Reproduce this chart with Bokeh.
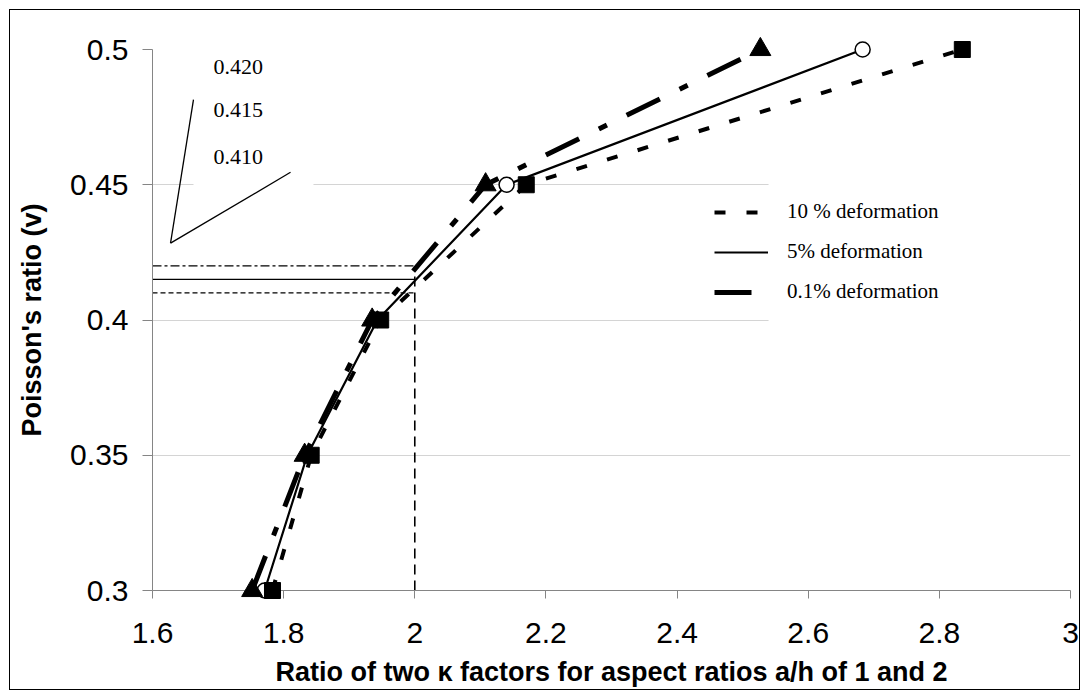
from bokeh.plotting import figure
from bokeh.models import (Range1d, FixedTicker, Label, Legend, LegendItem)
from bokeh.embed import file_html
from bokeh.resources import INLINE

# Poisson's ratio levels and the kappa-factor ratios for each deformation level
poisson = [0.30, 0.35, 0.40, 0.45, 0.50]
ratio_10pct = [1.783, 1.842, 1.948, 2.170, 2.835]
ratio_5pct = [1.771, 1.836, 1.943, 2.140, 2.683]
ratio_01pct = [1.752, 1.832, 1.935, 2.108, 2.527]

series_labels = ["10 % deformation", "5% deformation", "0.1% deformation"]

x_ticks = [1.6, 1.8, 2.0, 2.2, 2.4, 2.6, 2.8, 3.0]
x_tick_labels = ["1.6", "1.8", "2", "2.2", "2.4", "2.6", "2.8", "3"]
y_ticks = [0.30, 0.35, 0.40, 0.45, 0.50]
y_tick_labels = ["0.3", "0.35", "0.4", "0.45", "0.5"]

x_title = "Ratio of two \u03ba factors for aspect ratios a/h of 1 and 2"
y_title = "Poisson's ratio (v)"

# reading of the chart at ratio = 2
read_x = 2.0
read_levels = [0.420, 0.415, 0.410]
read_labels = ["0.420", "0.415", "0.410"]

p = figure(width=1069, height=679, output_backend="svg", toolbar_location=None,
           x_range=Range1d(1.6, 3.0), y_range=Range1d(0.3, 0.5),
           min_border_left=142, min_border_right=9, min_border_top=39,
           min_border_bottom=98)
p.styles = {"margin": "10px", "outline": "1px solid black"}
p.outline_line_color = None
p.background_fill_color = "white"

p.xgrid.grid_line_color = None
p.ygrid.grid_line_color = "#d4d4d4"
p.ygrid.grid_line_width = 1

for ax in (p.xaxis, p.yaxis):
    ax.axis_line_color = "#858585"
    ax.major_tick_line_color = "#858585"
    ax.minor_tick_line_color = None
    ax.major_tick_in = 0
    ax.major_label_text_font = "Liberation Sans"
    ax.major_label_text_font_size = "30px"
    ax.major_label_text_color = "black"
    ax.axis_label_text_font = "Liberation Sans"
    ax.axis_label_text_font_style = "bold"
    ax.axis_label_text_font_size = "27px"
    ax.axis_label_text_color = "black"

p.xaxis.ticker = FixedTicker(ticks=x_ticks)
p.xaxis.major_label_overrides = dict(zip(x_ticks, x_tick_labels))
p.xaxis.major_tick_out = 8
p.xaxis.major_label_standoff = 24
p.xaxis.axis_label = x_title
p.xaxis.axis_label_standoff = 11

p.yaxis.ticker = FixedTicker(ticks=y_ticks)
p.yaxis.major_label_overrides = dict(zip(y_ticks, y_tick_labels))
p.yaxis.major_tick_out = 10
p.yaxis.major_label_standoff = 14
p.yaxis.axis_label = y_title
p.yaxis.axis_label_standoff = 20

# white panels behind the reading labels and the key
p.quad(left=[1.6625], right=[1.8455], bottom=[0.4475], top=[0.5026],
       fill_color="white", line_color=None)
p.quad(left=[2.5395], right=[3.0], bottom=[0.3985], top=[0.4515],
       fill_color="white", line_color=None)

# reading lines at ratio = 2
p.segment(x0=[read_x], y0=[0.3], x1=[read_x], y1=[read_levels[0]],
          line_color="black", line_width=1.6, line_dash="10 6")
p.segment(x0=[1.6], y0=[read_levels[0]], x1=[read_x], y1=[read_levels[0]],
          line_color="black", line_width=1.2, line_dash="9 3 3 3")
p.segment(x0=[1.6], y0=[read_levels[1]], x1=[read_x], y1=[read_levels[1]],
          line_color="black", line_width=1.2)
p.segment(x0=[1.6], y0=[read_levels[2]], x1=[read_x], y1=[read_levels[2]],
          line_color="black", line_width=1.2, line_dash="5 3")

# leader lines pointing to the reading labels
p.segment(x0=[1.6275, 1.6275], y0=[0.4284, 0.4284], x1=[1.6625, 1.8105],
          y1=[0.4815, 0.4546], line_color="black", line_width=1.3)
for lvl_text, ypos in zip(read_labels, [0.4937, 0.4775, 0.4601]):
    p.add_layout(Label(x=1.693, y=ypos, text=lvl_text, text_font="Liberation Serif",
                       text_font_size="22px", text_baseline="middle",
                       text_color="black"))

# 5 % deformation: solid line, open circles
r5 = p.line(ratio_5pct, poisson, line_color="black", line_width=2.2)
p.scatter(ratio_5pct, poisson, marker="circle", size=15, fill_color="white",
          line_color="black", line_width=1.5, level="overlay")

# 10 % deformation: short dashes, filled squares
r10 = p.line(ratio_10pct, poisson, line_color="black", line_width=4,
             line_dash="11 21")
p.scatter(ratio_10pct, poisson, marker="square", size=16, fill_color="black",
          line_color="black", level="overlay")

# 0.1 % deformation: long dash-dot, filled triangles
r01 = p.line(ratio_01pct, poisson, line_color="black", line_width=5,
             line_dash="37 22 9 22")
p.scatter(ratio_01pct, poisson, marker="triangle", size=21, fill_color="black",
          line_color="black", level="overlay")

legend = Legend(items=[LegendItem(label=series_labels[0], renderers=[r10]),
                       LegendItem(label=series_labels[1], renderers=[r5]),
                       LegendItem(label=series_labels[2], renderers=[r01])],
                location=(562, 286), orientation="vertical",
                border_line_color=None, background_fill_alpha=0,
                padding=0, margin=0, spacing=15,
                glyph_width=54, glyph_height=24, label_height=24,
                label_standoff=19, label_text_font="Liberation Serif",
                label_text_font_size="21px", label_text_color="black")
p.add_layout(legend)

open("out.html", "w").write(file_html(p, INLINE))
